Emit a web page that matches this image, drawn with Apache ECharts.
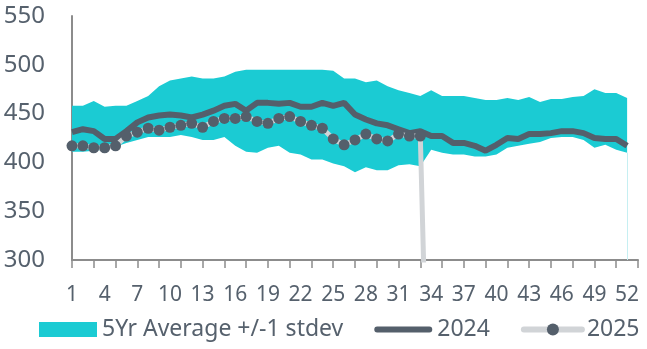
<!DOCTYPE html>
<html>
<head>
<meta charset="utf-8">
<script src="https://cdn.jsdelivr.net/npm/echarts@6/dist/echarts.min.js"></script>
<style>
  html, body { margin: 0; padding: 0; background: #fff; }
  #chart { width: 647px; height: 349px; }
</style>
</head>
<body>
<div id="chart"></div>
<script>
// weeks 1..53 (53 is empty, it just pads the axis)
const weeks = [];
for (let w = 1; w <= 53; w++) weeks.push(String(w));

const bandUpper = [458, 458, 463, 457, 458, 458, 463, 468, 478, 484, 486, 488, 486, 486, 488, 493, 495, 495, 495, 495,
  495, 495, 495, 495, 494, 486, 486, 482, 484, 478, 474, 471, 468, 474, 468, 468, 468, 466, 464, 464,
  466, 464, 467, 462, 465, 465, 467, 468, 475, 471, 471, 466];
const bandLower = [411, 411, 412, 413, 416, 420, 423, 426, 426, 426, 428, 426, 423, 423, 426, 417, 411, 410, 415, 417,
  410, 408, 403, 403, 399, 396, 390, 395, 392, 392, 397, 398, 396, 413, 410, 408, 408, 406, 406, 408,
  415, 417, 419, 421, 425, 426, 426, 423, 415, 418, 413, 410];
const y2024 = [431, 434, 432, 424, 424, 432, 441, 446, 448, 449, 448, 446, 449, 453, 458, 460, 453, 461, 461, 460,
  461, 457, 457, 461, 458, 461, 449, 444, 440, 438, 434, 430, 432, 427, 427, 420, 420, 417, 412, 418,
  425, 424, 429, 429, 430, 432, 432, 430, 425, 424, 424, 417];
const y2025 = [417, 417, 415, 415, 417, 427, 431, 435, 433, 436, 438, 440, 436, 442, 445, 445, 447, 442, 440, 445,
  447, 442, 438, 435, 424, 418, 423, 429, 424, 422, 429, 427, 427, 0];

const TEAL = '#1bcbd3';
const DARK = '#545f6b';
const LIGHT = '#d1d4d7';
const TXT = '#56616d';
const AXIS = '#8c8c8c';

const bandName = '5Yr Average +/-1 stdev';
const bandHeight = bandUpper.map((u, i) => u - bandLower[i]);
// the zero week drops off the axis, no dot for it
const y2025Data = y2025.map(v => (v === 0 ? { value: v, symbol: 'none' } : v));

const chart = echarts.init(document.getElementById('chart'));
chart.setOption({
  animation: false,
  textStyle: { fontFamily: 'Noto Sans' },
  grid: { left: 72, right: 9, top: 16, bottom: 89 },
  xAxis: {
    type: 'category',
    data: weeks,
    boundaryGap: false,
    axisLine: { lineStyle: { color: AXIS, width: 2 } },
    axisTick: { interval: 1, length: 8, lineStyle: { color: AXIS, width: 1.5 } },
    axisLabel: {
      interval: 2,
      margin: 25,
      fontSize: 21,
      color: TXT
    },
    splitLine: { show: false }
  },
  yAxis: {
    type: 'value',
    min: 300,
    max: 550,
    interval: 50,
    axisLine: { show: true, lineStyle: { color: AXIS, width: 2 } },
    axisTick: { show: false },
    splitLine: { show: false },
    axisLabel: { fontSize: 24, color: TXT, margin: 27 }
  },
  legend: {
    left: 39,
    top: 318,
    width: 640,
    padding: 0,
    itemWidth: 58,
    itemHeight: 15,
    itemGap: 31,
    textStyle: { fontSize: 23, color: TXT },
    data: [
      { name: bandName, icon: 'rect', itemStyle: { color: TEAL } },
      { name: '2024', icon: 'path://M3,0 H57 A3,3 0 0 1 57,6 H3 A3,3 0 0 1 3,0 Z', itemStyle: { color: DARK } },
      { name: '2025', lineStyle: { color: LIGHT, width: 6, cap: 'round' }, itemStyle: { color: DARK } }
    ]
  },
  series: [
    {
      name: 'lower',
      type: 'line',
      stack: 'band',
      data: bandLower,
      symbol: 'none',
      silent: true,
      lineStyle: { opacity: 0 }
    },
    {
      name: bandName,
      type: 'line',
      stack: 'band',
      data: bandHeight,
      symbol: 'none',
      silent: true,
      lineStyle: { width: 0, color: TEAL },
      itemStyle: { color: TEAL },
      areaStyle: { color: TEAL, opacity: 1 },
      markLine: {
        silent: true,
        symbol: 'none',
        label: { show: false },
        lineStyle: { color: '#c6eff2', width: 1, type: 'solid' },
        data: [[{ coord: ['52', 300] }, { coord: ['52', bandLower[51]] }]]
      }
    },
    {
      name: '2024',
      type: 'line',
      data: y2024,
      symbol: 'none',
      lineStyle: { color: DARK, width: 6 },
      itemStyle: { color: DARK }
    },
    {
      name: '2025',
      type: 'line',
      data: y2025Data,
      symbol: 'circle',
      symbolSize: 11,
      showAllSymbol: true,
      lineStyle: { color: LIGHT, width: 5 },
      itemStyle: { color: DARK }
    }
  ]
});
</script>
</body>
</html>
